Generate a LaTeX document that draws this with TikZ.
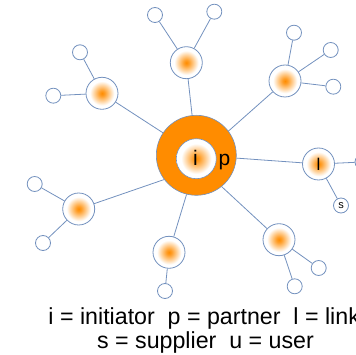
\documentclass[tikz,border=0pt]{standalone}
\usepackage{fontspec}
\setmainfont{Liberation Sans}
\definecolor{ln}{RGB}{115,145,190}
\definecolor{org}{RGB}{255,140,0}
\pgfdeclareradialshading{orb}{\pgfpoint{0bp}{0bp}}{color(0bp)=(org); color(4bp)=(org!85!white); color(19bp)=(white); color(50bp)=(white)}
\begin{document}
\begin{tikzpicture}[x=1pt,y=-1pt,
  sat/.style={circle, draw=ln, line width=0.8pt, minimum size=32pt, inner sep=0pt, shading=orb},
  leaf/.style={circle, draw=ln, line width=0.8pt, fill=white, minimum size=15pt, inner sep=0pt},
  link/.style={draw=ln, line width=0.8pt}]
\useasboundingbox (0,0) rectangle (356,355);
\clip (0,0) rectangle (356,355);
% central ring
\node[circle, fill=org, draw=ln, line width=0.6pt, minimum size=80pt, inner sep=0pt] (ring) at (196.3,155.3) {};
\node[circle, shading=orb, draw=ln, line width=0.6pt, minimum size=40pt, inner sep=0pt] (ini) at (196.3,158.7) {};
\node[anchor=base, inner sep=0pt, font=\fontsize{21}{21}\selectfont] (ti) at (195.5,165.3) {i};
\node[anchor=base, inner sep=0pt, font=\fontsize{21}{21}\selectfont] (tp) at (224.5,165.3) {p};
% satellites
\node[sat] (A) at (102,93.3) {};
\node[sat] (B) at (186.3,62.7) {};
\node[sat] (C) at (285,81) {};
\node[sat, font=\fontsize{17}{17}\selectfont] (L) at (318.5,164) {l};
\node[sat] (D) at (78.7,209) {};
\node[sat] (E) at (169,252.3) {};
\node[sat] (F) at (279,239.7) {};
% leaves
\node[leaf] (a1) at (80,52.3) {};
\node[leaf] (a2) at (53.3,95.7) {};
\node[leaf] (b1) at (155,15) {};
\node[leaf] (b2) at (214.3,11.7) {};
\node[leaf] (c1) at (294,32.7) {};
\node[leaf] (c2) at (330.7,50) {};
\node[leaf] (c3) at (333.3,86.7) {};
\node[leaf, font=\fontsize{11}{11}\selectfont] (s) at (341,205.5) {s};
\node[leaf] (u) at (362.5,162) {};
\node[leaf] (d1) at (34.7,184) {};
\node[leaf] (d2) at (43,243) {};
\node[leaf] (e1) at (165,291) {};
\node[leaf] (f1) at (318.7,268) {};
\node[leaf] (f2) at (294.7,286.3) {};
% connectors
\draw[link] (A) -- (ring.146);
\draw[link] (B) -- (ring.96);
\draw[link] (C) -- (ring.37);
\draw[link] (L) -- (ring.-4);
\draw[link] (F) -- (ring.-51);
\draw[link] (E) -- (ring.256);
\draw[link] (D) -- (ring.217);
\draw[link] (A) -- (a1);
\draw[link] (A) -- (a2);
\draw[link] (B) -- (b1);
\draw[link] (B) -- (b2);
\draw[link] (C) -- (c1);
\draw[link] (C) -- (c2);
\draw[link] (C) -- (c3);
\draw[link] (L) -- (s);
\draw[link] (L) -- (u);
\draw[link] (D) -- (d1);
\draw[link] (D) -- (d2);
\draw[link] (E) -- (e1);
\draw[link] (F) -- (f1);
\draw[link] (F) -- (f2);
% legend
\node[anchor=base, inner sep=0pt, font=\fontsize{23.2}{24}\selectfont] (leg1) at (204.2,324.3) {i = initiator~~p = partner~~l = link};
\node[anchor=base, inner sep=0pt, font=\fontsize{23.2}{24}\selectfont] (leg2) at (205.5,348.3) {s = supplier~~u = user};
\end{tikzpicture}
\end{document}
